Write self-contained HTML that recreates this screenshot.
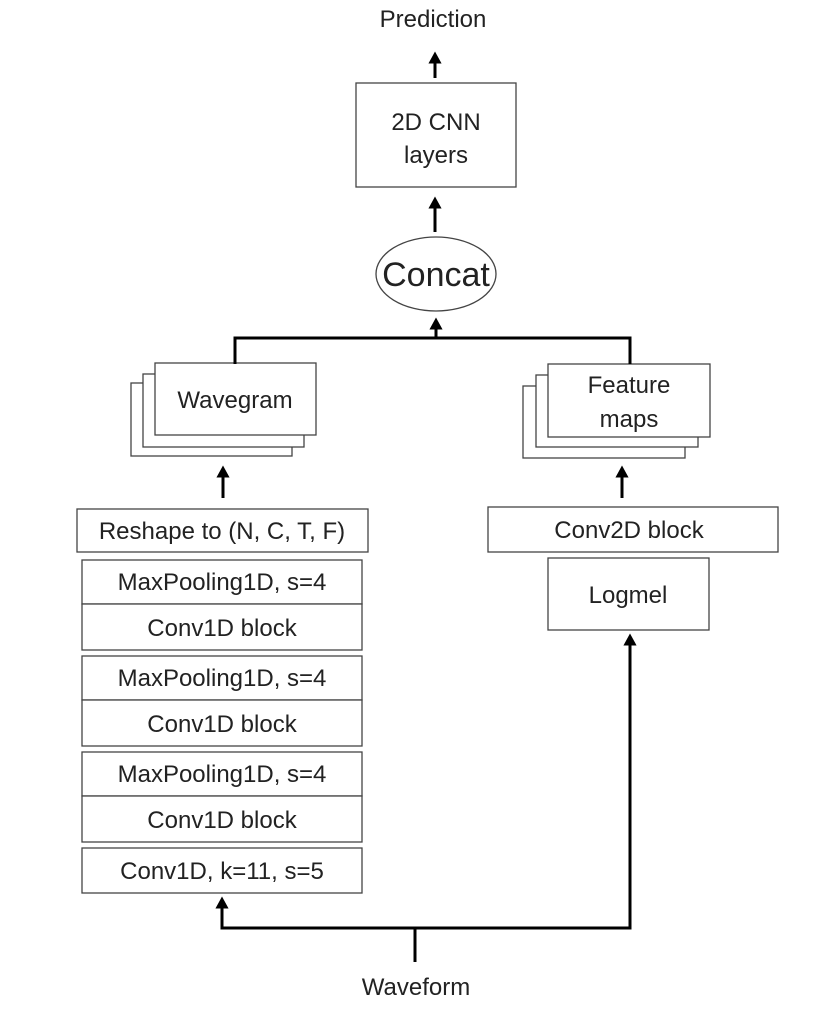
<!DOCTYPE html>
<html><head><style>
body{margin:0;background:#fff;}
svg text{font-family:"Liberation Sans",sans-serif;fill:#222;}
</style></head><body>
<svg width="831" height="1005" viewBox="0 0 831 1005" xmlns="http://www.w3.org/2000/svg">
<defs><marker id="a" markerWidth="4" markerHeight="4.4" refX="2.5" refY="2.2" orient="auto" markerUnits="strokeWidth"><path d="M0,0 L4,2.2 L0,4.4 z" fill="#000"/></marker></defs>
<g fill="#fff" stroke="#444" stroke-width="1.3">
<rect x="356" y="83" width="160" height="104"/>
<ellipse cx="436" cy="274" rx="60" ry="37"/>
<rect x="131" y="383" width="161" height="73"/>
<rect x="143" y="374" width="161" height="73"/>
<rect x="155" y="363" width="161" height="72"/>
<rect x="523" y="386" width="162" height="72"/>
<rect x="536" y="375" width="162" height="72"/>
<rect x="548" y="364" width="162" height="73"/>
<rect x="77" y="509" width="291" height="43"/>
<rect x="82" y="560" width="280" height="44"/><rect x="82" y="604" width="280" height="46"/>
<rect x="82" y="656" width="280" height="44"/><rect x="82" y="700" width="280" height="46"/>
<rect x="82" y="752" width="280" height="44"/><rect x="82" y="796" width="280" height="46"/>
<rect x="82" y="848" width="280" height="45"/>
<rect x="488" y="507" width="290" height="45"/>
<rect x="548" y="558" width="161" height="72"/>
</g>
<g stroke="#000" stroke-width="3" fill="none">
<line x1="435" y1="78" x2="435" y2="56" marker-end="url(#a)"/>
<line x1="435" y1="232" x2="435" y2="201" marker-end="url(#a)"/>
<line x1="436" y1="338" x2="436" y2="322" marker-end="url(#a)"/>
<polyline points="235,364 235,338 630,338 630,364"/>
<line x1="223" y1="498" x2="223" y2="470" marker-end="url(#a)"/>
<line x1="622" y1="498" x2="622" y2="470" marker-end="url(#a)"/>
<polyline points="222,903 222,928 630,928 630,640" />
<line x1="222" y1="905" x2="222" y2="901" marker-end="url(#a)"/>
<line x1="630" y1="642" x2="630" y2="638" marker-end="url(#a)"/>
<line x1="415" y1="928" x2="415" y2="962"/>
</g>
<g font-size="24" text-anchor="middle">
<text x="433" y="27">Prediction</text>
<text x="436" y="130">2D CNN</text>
<text x="436" y="163">layers</text>
<text x="436" y="286" font-size="34">Concat</text>
<text x="235" y="408">Wavegram</text>
<text x="629" y="393">Feature</text>
<text x="629" y="427">maps</text>
<text x="222" y="539">Reshape to (N, C, T, F)</text>
<text x="222" y="590">MaxPooling1D, s=4</text>
<text x="222" y="636">Conv1D block</text>
<text x="222" y="686">MaxPooling1D, s=4</text>
<text x="222" y="732">Conv1D block</text>
<text x="222" y="782">MaxPooling1D, s=4</text>
<text x="222" y="828">Conv1D block</text>
<text x="222" y="879">Conv1D, k=11, s=5</text>
<text x="629" y="538">Conv2D block</text>
<text x="628" y="603">Logmel</text>
<text x="416" y="995">Waveform</text>
</g>
</svg>
</body></html>
